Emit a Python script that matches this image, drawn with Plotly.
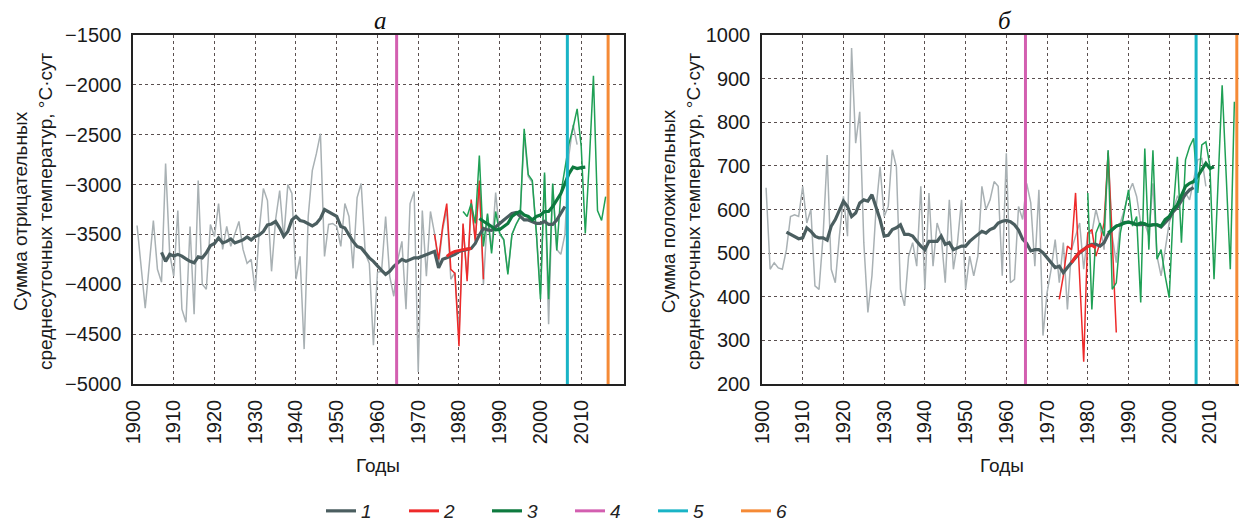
import plotly.graph_objects as go

# ---------------- DATA ----------------
# Panel a: sum of negative mean daily temperatures
a_raw_start = 1901
a_raw = [-3410, -3800, -4240, -3800, -3360, -3850, -3980, -2790, -3690, -3920,
         -3260, -4250, -4380, -3420, -4300, -2960, -4000, -4050, -3400, -3520,
         -3190, -3650, -3420, -3620, -3490, -3370, -3650, -3790, -3750, -4070,
         -3450, -3040, -3160, -3870, -3350, -3060, -3540, -3000, -3090, -3950,
         -3720, -4650, -3320, -2860, -2690, -2490, -3720, -3400, -3390, -3420,
         -3620, -3190, -3320, -3840, -3130, -2990, -3690, -3790, -4610, -3880,
         -3870, -3320, -3920, -4120, -3750, -3570, -4250, -3190, -3070, -4880,
         -3260, -3920, -3270, -3490, -3800, -3450, -3250, -3950, -3880, -4500,
         -3400, -3950, -3200, -3550, -3000, -4000, -3300, -3650, -3080, -3500,
         -3560, -3880, -3500, -3400, -3330, -2500, -2920, -2980, -3480, -4100,
         -2900, -4400, -3000, -3650, -3700, -3500, -2700, -2400, -2600]
a_smooth_start = 1907
a_smooth = [-3680, -3770, -3700, -3717, -3700, -3717, -3745, -3770, -3785, -3725,
            -3735, -3685, -3612, -3590, -3535, -3585, -3570, -3545, -3585, -3570,
            -3555, -3525, -3555, -3520, -3505, -3470, -3404, -3395, -3370, -3436,
            -3520, -3470, -3354, -3320, -3360, -3370, -3395, -3414, -3390, -3340,
            -3250, -3275, -3295, -3320, -3420, -3436, -3505, -3570, -3620, -3635,
            -3685, -3735, -3770, -3820, -3860, -3900, -3870, -3820, -3790, -3750,
            -3770, -3750, -3735, -3735, -3720, -3700, -3690, -3670, -3835, -3750,
            -3735, -3720, -3700, -3670, -3660, -3655, -3640, -3590, -3505, -3440,
            -3455, -3460, -3420, -3390, -3355, -3320, -3290, -3280, -3320, -3355,
            -3355, -3370, -3390, -3390, -3370, -3400, -3400, -3355, -3290, -3220]
a_red_start = 1974
a_red = [-3500, -3750, -3420, -3190, -3850, -3890, -4620, -3390, -3970, -3150,
         -3570, -2960, -3950]
a_red_smooth_start = 1977
a_red_smooth = [-3720, -3690, -3670, -3660, -3655, -3645, -3640]
a_green_start = 1981
a_green = [-3270, -3320, -3190, -3390, -2710, -3620, -3290, -3690, -3270, -3490,
           -3550, -3900, -3500, -3400, -3320, -2440, -2900, -2960, -3490, -4150,
           -2880, -4150, -2990, -3660, -3090, -2860, -2590, -2430, -2240, -2620,
           -3490, -2760, -1910, -3260, -3360, -3120]
a_green_smooth_start = 1985
a_green_smooth = [-3340, -3370, -3395, -3420, -3455, -3450, -3420, -3390, -3320, -3290,
                  -3270, -3305, -3320, -3355, -3320, -3305, -3270, -3270, -3220, -3155,
                  -3090, -2990, -2890, -2825, -2840, -2830, -2825]

# Panel b: sum of positive mean daily temperatures
b_raw_start = 1901
b_raw = [650, 463, 478, 466, 463, 508, 584, 588, 584, 653,
         569, 600, 425, 417, 539, 725, 463, 432, 539, 630,
         539, 970, 752, 824, 524, 364, 448, 600, 698, 584,
         607, 737, 698, 417, 379, 493, 524, 470, 653, 417,
         638, 470, 569, 539, 432, 622, 463, 524, 622, 417,
         493, 448, 493, 653, 600, 622, 664, 653, 448, 729,
         432, 440, 607, 577, 660, 615, 470, 645, 311, 409,
         463, 531, 432, 524, 371, 508, 539, 569, 463, 546,
         546, 600, 562, 508, 736, 539, 478, 569, 600, 638,
         660, 630, 569, 569, 539, 660, 493, 448, 508, 569,
         600, 630, 622, 638, 622, 668, 714, 717, 653]
b_smooth_start = 1906
b_smooth = [548, 543, 537, 533, 535, 558, 550, 539, 535, 535,
            530, 562, 577, 596, 619, 607, 584, 592, 615, 622,
            619, 634, 607, 577, 539, 541, 554, 558, 565, 543,
            543, 539, 527, 516, 508, 527, 527, 527, 539, 520,
            524, 508, 512, 516, 516, 527, 535, 543, 550, 546,
            554, 558, 569, 573, 575, 572, 565, 553, 532, 522,
            505, 508, 508, 501, 489, 478, 467, 470, 455, 467,
            478, 489, 501, 508, 516, 520, 520, 516, 524, 543,
            554, 562, 565, 570, 571, 569, 565, 565, 566, 563,
            565, 565, 560, 570, 580, 595, 605, 620, 635, 645, 650]
b_red_start = 1973
b_red = [394, 448, 516, 508, 638, 445, 251, 546, 554, 493, 524, 569, 730, 530, 318]
b_red_smooth_start = 1976
b_red_smooth = [478, 492, 502, 508, 515, 518, 512]
b_green_start = 1980
b_green = [638, 371, 546, 569, 539, 736, 417, 432, 546, 600,
           645, 562, 584, 387, 740, 508, 736, 486, 508, 448,
           398, 600, 721, 524, 714, 744, 763, 638, 748, 755,
           698, 440, 676, 885, 676, 463, 847]
b_green_smooth_start = 1985
b_green_smooth = [546, 554, 562, 565, 569, 571, 569, 565, 569, 567,
                  563, 565, 565, 562, 577, 584, 600, 611, 630, 653,
                  660, 664, 676, 691, 706, 694, 698]

# Vertical marker years (legend 4, 5, 6)
marker_years = [1964.7, 2006.6, 2016.6]
marker_names = ["4", "5", "6"]
legend_names = ["1", "2", "3"]

panel_titles = ["а", "б"]
y_titles = ["Сумма отрицательных<br>среднесуточных температур, °С·сут",
            "Сумма положительных<br>среднесуточных температур, °С·сут"]
x_title = "Годы"
a_yrange = [-5000, -1500]
b_yrange = [200, 1000]
a_xrange = [1900, 2020.5]
b_xrange = [1900, 2019.1]
xticks = list(range(1900, 2011, 10))

# ---------------- STYLE ----------------
GREY_THIN = "#a9b1b4"
GREY_THICK = "#4b5e60"
RED = "#ee2a2a"
GREEN_THIN = "#1fa055"
GREEN_THICK = "#0e7a3f"
MARKER_COLORS = ["#d35fb0", "#19b4c6", "#f58a36"]
FONT = "Liberation Sans, Arial, sans-serif"

OFF = 8  # page body margin
W, H = 1247 - OFF, 522 - OFF


def px(x):
    return (x - OFF) / W


def py(y):
    return (H - (y - OFF)) / H


def yrs(start, vals):
    return list(range(start, start + len(vals)))


fig = go.Figure()


def add_panel(xa, ya, raw_s, raw, sm_s, sm, red_s, red, rsm_s, rsm, g_s, g, gsm_s, gsm, yr, show):
    fig.add_trace(go.Scatter(x=yrs(raw_s, raw), y=raw, mode="lines", xaxis=xa, yaxis=ya,
                             line=dict(color=GREY_THIN, width=1.5), showlegend=False, hoverinfo="skip"))
    fig.add_trace(go.Scatter(x=yrs(red_s, red), y=red, mode="lines", xaxis=xa, yaxis=ya,
                             line=dict(color=RED, width=1.5), showlegend=False, hoverinfo="skip"))
    fig.add_trace(go.Scatter(x=yrs(g_s, g), y=g, mode="lines", xaxis=xa, yaxis=ya,
                             line=dict(color=GREEN_THIN, width=1.5), showlegend=False, hoverinfo="skip"))
    fig.add_trace(go.Scatter(x=yrs(sm_s, sm), y=sm, mode="lines", xaxis=xa, yaxis=ya,
                             line=dict(color=GREY_THICK, width=3.2), name=legend_names[0],
                             showlegend=show, legendrank=1))
    fig.add_trace(go.Scatter(x=yrs(rsm_s, rsm), y=rsm, mode="lines", xaxis=xa, yaxis=ya,
                             line=dict(color=RED, width=3), name=legend_names[1],
                             showlegend=show, legendrank=2))
    fig.add_trace(go.Scatter(x=yrs(gsm_s, gsm), y=gsm, mode="lines", xaxis=xa, yaxis=ya,
                             line=dict(color=GREEN_THICK, width=3.2), name=legend_names[2],
                             showlegend=show, legendrank=3))
    for i, yv in enumerate(marker_years):
        fig.add_trace(go.Scatter(x=[yv, yv], y=yr, mode="lines", xaxis=xa, yaxis=ya,
                                 line=dict(color=MARKER_COLORS[i], width=3), name=marker_names[i],
                                 showlegend=show, legendrank=4 + i))


add_panel("x", "y", a_raw_start, a_raw, a_smooth_start, a_smooth, a_red_start, a_red,
          a_red_smooth_start, a_red_smooth, a_green_start, a_green, a_green_smooth_start,
          a_green_smooth, a_yrange, True)
add_panel("x2", "y2", b_raw_start, b_raw, b_smooth_start, b_smooth, b_red_start, b_red,
          b_red_smooth_start, b_red_smooth, b_green_start, b_green, b_green_smooth_start,
          b_green_smooth, b_yrange, False)

ydom = [py(384), py(35)]
axis_common = dict(showline=True, linecolor="#222", linewidth=1.5, mirror=True,
                   showgrid=True, gridcolor="#5a5050", gridwidth=1, griddash="dot",
                   zeroline=False, ticks="", ticklabelstandoff=6,
                   tickfont=dict(family=FONT, size=20, color="#1a1a1a"))

fig.update_layout(
    width=W, height=H, paper_bgcolor="white", plot_bgcolor="white",
    margin=dict(l=0, r=0, t=0, b=0, autoexpand=False),
    showlegend=True,
    xaxis=dict(domain=[px(133), px(624)], range=a_xrange, tickvals=xticks,
               tickangle=-90, anchor="y", **axis_common),
    yaxis=dict(domain=ydom, range=a_yrange, dtick=500, anchor="x", **axis_common),
    xaxis2=dict(domain=[px(762), 1.0], range=b_xrange, tickvals=xticks,
                tickangle=-90, anchor="y2", **axis_common),
    yaxis2=dict(domain=ydom, range=b_yrange, dtick=100, anchor="x2", **axis_common),
    legend=dict(orientation="h", x=px(321), xanchor="left", y=py(511), yanchor="middle",
                entrywidth=38, entrywidthmode="pixels", bgcolor="rgba(0,0,0,0)",
                font=dict(family=FONT, size=19, color="#222", style="italic"),
                tracegroupgap=0, itemwidth=30),
)

for txt, xc in [(panel_titles[0], 380), (panel_titles[1], 1005)]:
    fig.add_annotation(text=txt, x=px(xc), y=py(20), xref="paper", yref="paper",
                       showarrow=False, xanchor="center", yanchor="middle",
                       font=dict(family="Liberation Serif, serif", size=25, color="#111", style="italic"))

for xt, txt in [(33, y_titles[0]), (681, y_titles[1])]:
    fig.add_annotation(text=txt, x=px(xt), y=py(212), xref="paper", yref="paper",
                       showarrow=False, textangle=-90, xanchor="center", yanchor="middle",
                       font=dict(family=FONT, size=19, color="#1a1a1a"))

for xt in [378, 1002]:
    fig.add_annotation(text=x_title, x=px(xt), y=py(465), xref="paper", yref="paper",
                       showarrow=False, xanchor="center", yanchor="middle",
                       font=dict(family=FONT, size=19, color="#1a1a1a"))

fig.write_html("out.html")
